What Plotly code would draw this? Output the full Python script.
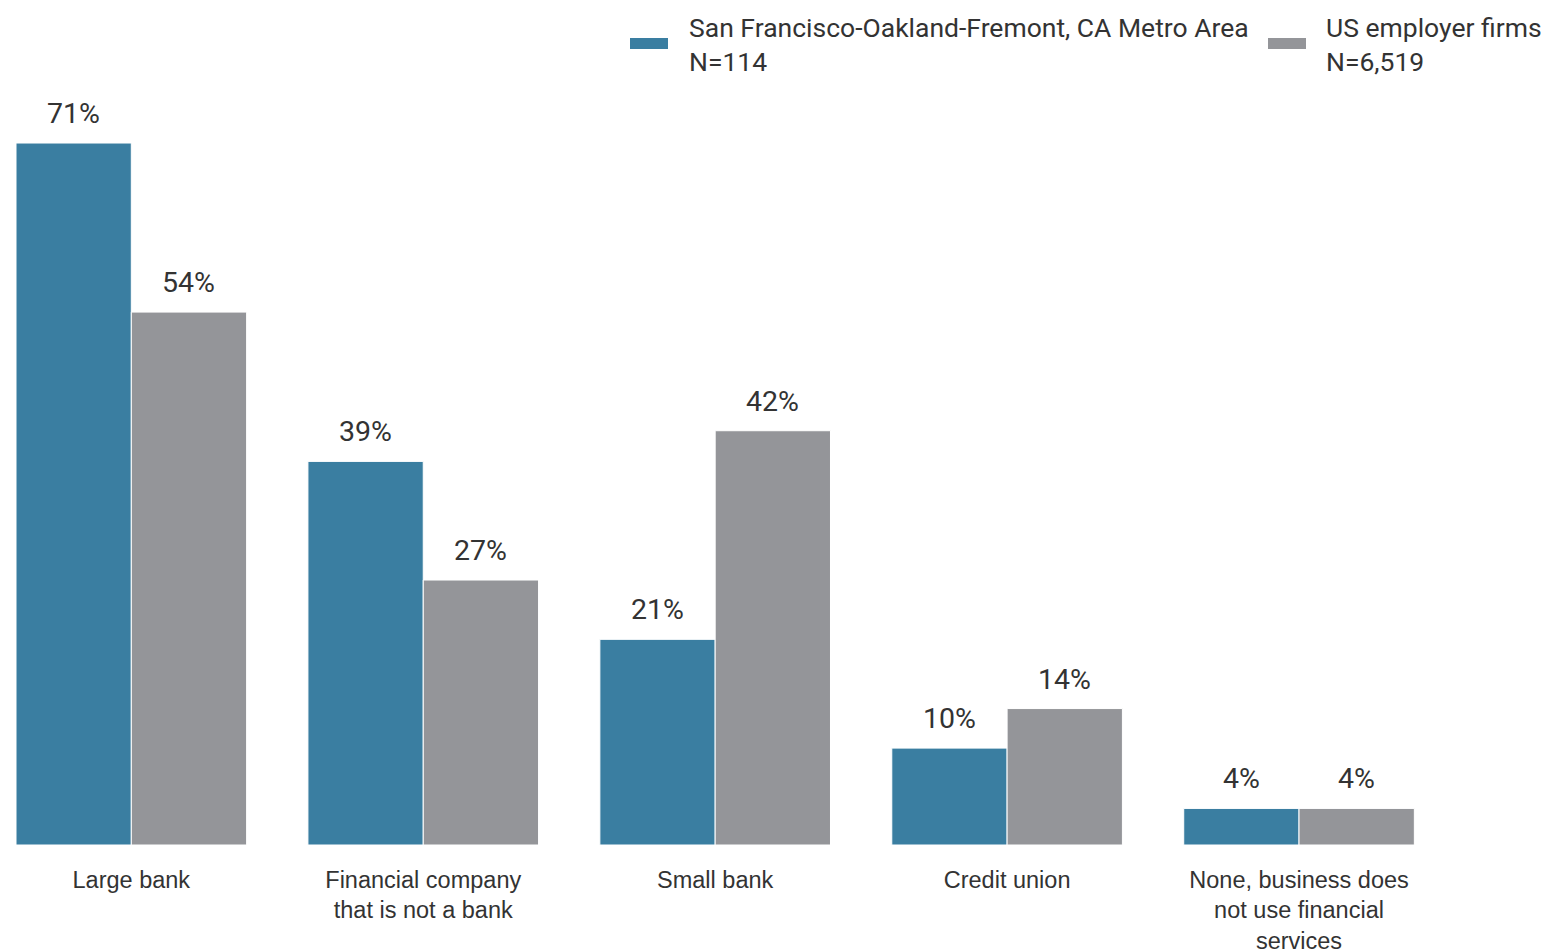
import plotly.graph_objects as go

categories = ["Large bank", "Financial company<br>that is not a bank", "Small bank",
              "Credit union", "None, business does<br>not use financial<br>services"]
sf_values = [71.0, 38.8, 20.8, 9.8, 3.7]
us_values = [53.9, 26.8, 41.9, 13.8, 3.7]
series_names = ["San Francisco-Oakland-Fremont, CA Metro Area", "US employer firms"]
series_n = ["N=114", "N=6,519"]
colors = ["#3a7ea1", "#949599"]

# page body has an 8px margin, so the figure is drawn 8px in from the window edge
OFF = 8
W, H = 1550 - OFF, 949 - OFF
ML, MR, MT, MB = 16 - OFF, 105, 84 - OFF, 104
PW, PH = W - ML - MR, H - MT - MB

def px_x(px):  # window pixel -> paper x
    return (px - OFF - ML) / PW

def px_y(py):  # window pixel -> paper y
    return (H - MB - (py - OFF)) / PH

BARGAP = 0.21
half = (1 - BARGAP) / 4  # offset of each bar centre from category centre

fig = go.Figure()
for vals, name, col in [(sf_values, series_names[0], colors[0]),
                        (us_values, series_names[1], colors[1])]:
    fig.add_trace(go.Bar(x=list(range(len(categories))), y=vals, name=name,
                         marker=dict(color=col, line=dict(color="white", width=1)),
                         showlegend=False, hoverinfo="skip"))

annotations = []
for sign, vals in [(-1, sf_values), (1, us_values)]:
    for i, v in enumerate(vals):
        annotations.append(dict(x=i + sign * half, y=v, xref="x", yref="y",
                                text=f"{v:.0f}%", showarrow=False,
                                yanchor="bottom", yshift=11,
                                font=dict(family="Roboto", size=28.5, color="#333333")))

# custom legend (wide swatch + two-line label per series)
shapes = []
legend_swatch_px = [630, 1268]
legend_text_px = [687, 1324]
for name, n, col, sx, tx in zip(series_names, series_n, colors, legend_swatch_px, legend_text_px):
    shapes.append(dict(type="rect", xref="paper", yref="paper",
                       x0=px_x(sx), x1=px_x(sx + 38), y0=px_y(49), y1=px_y(38),
                       fillcolor=col, line=dict(width=0)))
    annotations.append(dict(x=px_x(tx), y=px_y(10), xref="paper", yref="paper",
                            text=f"{name}<br>{n}", showarrow=False, align="left",
                            xanchor="left", yanchor="top",
                            font=dict(family="Roboto", size=26.5, color="#333333")))

fig.update_layout(
    width=W, height=H,
    paper_bgcolor="white", plot_bgcolor="white",
    margin=dict(l=ML, r=MR, t=MT, b=MB),
    barmode="group", bargap=BARGAP, bargroupgap=0,
    annotations=annotations, shapes=shapes,
    showlegend=False,
    xaxis=dict(tickmode="array", tickvals=list(range(len(categories))),
               ticktext=categories, range=[-0.395, 4.5], automargin=False,
               showgrid=False, zeroline=False, showline=False, ticks="",
               ticklabelstandoff=18,
               tickfont=dict(family="Liberation Sans", size=23.5, color="#333333")),
    yaxis=dict(range=[0, PH / 9.887], visible=False, showgrid=False, zeroline=False,
               automargin=False),
)

fig.write_html("out.html")
